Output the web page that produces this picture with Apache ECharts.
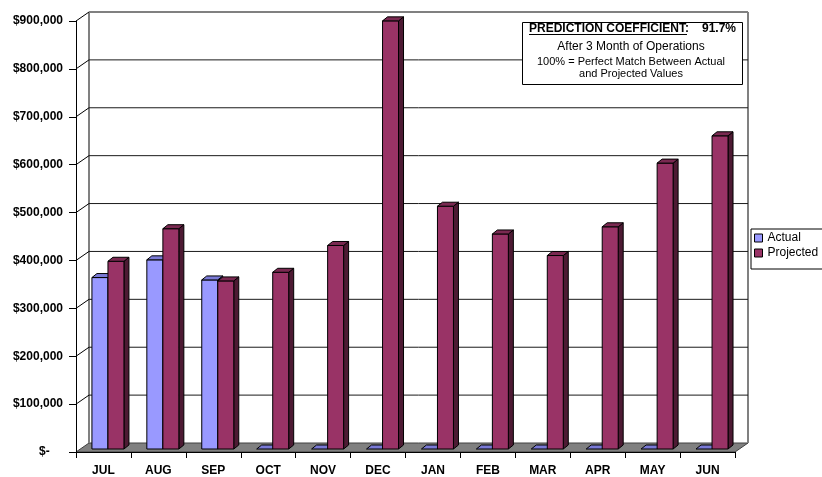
<!DOCTYPE html>
<html>
<head>
<meta charset="utf-8">
<script src="https://cdn.jsdelivr.net/npm/echarts@6/dist/echarts.min.js"></script>
<style>
html,body{margin:0;padding:0;background:#fff;}
#chart{width:822px;height:477px;}
</style>
</head>
<body>
<div id="chart"></div>
<script>
const categories = ['JUL','AUG','SEP','OCT','NOV','DEC','JAN','FEB','MAR','APR','MAY','JUN'];
const actualValues = [358000, 395000, 353000, 0, 0, 0, 0, 0, 0, 0, 0, 0];
const projectedValues = [392000, 460000, 351000, 369000, 425000, 894000, 507000, 449000, 404000, 464000, 597000, 654000];
const yTicks = [0, 100000, 200000, 300000, 400000, 500000, 600000, 700000, 800000, 900000];
const legendNames = ['Actual', 'Projected'];
const boxLines = ['PREDICTION COEFFICIENT:', '91.7%', 'After 3 Month of Operations', '100% = Perfect Match Between Actual', 'and Projected Values'];

const FONT = '"Liberation Sans", Arial, sans-serif';
const DX = 13, DY = -9;          // wall depth offset
const BDX = 5, BDY = -4;         // bar depth offset
const BAR_SHIFT = -3;            // bars sit mid-depth

function fmtMoney(v) {
  if (v === 0) return '$-    ';
  return '$' + String(v).replace(/\B(?=(\d{3})+(?!\d))/g, ',');
}

const chart = echarts.init(document.getElementById('chart'), null, {renderer: 'canvas'});

function wallRender(params, api) {
  const cs = params.coordSys;
  const left = cs.x, right = cs.x + cs.width, bottom = cs.y + cs.height, top = cs.y;
  const v = api.value(1);
  const y = api.coord([0, v])[1];
  const children = [];
  if (params.dataIndex === 0) {
    children.push({
      type: 'polygon',
      shape: {points: [[left, bottom], [right, bottom], [right + DX, bottom + DY], [left + DX, bottom + DY]]},
      style: {fill: '#808080', stroke: '#404040', lineWidth: 1}
    });
    children.push({
      type: 'line',
      shape: {x1: left + DX, y1: top + DY, x2: left + DX, y2: bottom + DY},
      style: {stroke: '#808080', lineWidth: 2}
    });
    children.push({
      type: 'line',
      shape: {x1: right + DX, y1: top + DY, x2: right + DX, y2: bottom + DY},
      style: {stroke: '#808080', lineWidth: 2}
    });
  }
  if (v > 0) {
    const isTop = params.dataIndex === yTicks.length - 1;
    children.push({
      type: 'line',
      shape: {x1: left + DX, y1: y + DY, x2: right + DX, y2: y + DY},
      style: {stroke: isTop ? '#808080' : '#1a1a1a', lineWidth: isTop ? 2 : 1}
    });
    children.push({
      type: 'line',
      shape: {x1: left, y1: y, x2: left + DX, y2: y + DY},
      style: {stroke: '#000', lineWidth: 1}
    });
  }
  return {type: 'group', children: children};
}

function makeBarRender(frontColor, topColor, sideColor, offsetFrac) {
  return function (params, api) {
    const idx = api.value(0), v = api.value(1);
    const c = api.coord([idx, v]);
    const b = api.coord([idx, 0]);
    const bw = api.size([1, 0])[0];
    const w = bw * 0.291;
    const x0 = c[0] + bw * offsetFrac;
    const yT = c[1] + BAR_SHIFT;
    const yB = b[1] + BAR_SHIFT;
    const st = {stroke: '#000', lineWidth: 1};
    const children = [];
    if (yB - yT > 0.5) {
      children.push({type: 'polygon', shape: {points: [[x0 + w, yT], [x0 + w + BDX, yT + BDY], [x0 + w + BDX, yB + BDY], [x0 + w, yB]]}, style: Object.assign({fill: sideColor}, st)});
      children.push({type: 'rect', shape: {x: x0, y: yT, width: w, height: yB - yT}, style: Object.assign({fill: frontColor}, st)});
    }
    children.push({type: 'polygon', shape: {points: [[x0, yT], [x0 + w, yT], [x0 + w + BDX, yT + BDY], [x0 + BDX, yT + BDY]]}, style: Object.assign({fill: topColor}, st)});
    return {type: 'group', children: children};
  };
}

const option = {
  animation: false,
  backgroundColor: '#fff',
  grid: {left: 76, top: 21, width: 659, height: 434},
  xAxis: {
    type: 'category',
    data: categories,
    z: 5,
    axisLine: {show: true, lineStyle: {color: '#000', width: 1}},
    axisTick: {show: true, length: 6, interval: 0, lineStyle: {color: '#000'}},
    axisLabel: {interval: 0, margin: 13, color: '#000', fontWeight: 'bold', fontSize: 12, fontFamily: FONT},
    splitLine: {show: false}
  },
  yAxis: {
    type: 'value',
    min: 0, max: 900000, interval: 100000,
    z: 5,
    axisLine: {show: true, lineStyle: {color: '#000', width: 1}},
    axisTick: {show: true, length: 7, lineStyle: {color: '#000'}},
    axisLabel: {margin: 13, color: '#000', fontWeight: 'bold', fontSize: 12, fontFamily: FONT, formatter: fmtMoney},
    splitLine: {show: false}
  },
  legend: {
    orient: 'vertical',
    left: 751, top: 229,
    padding: [3, 10, 10, 3],
    itemGap: 3,
    itemWidth: 8, itemHeight: 8,
    borderColor: '#000', borderWidth: 1,
    backgroundColor: '#fff',
    textStyle: {color: '#000', fontSize: 12, fontFamily: FONT},
    data: [
      {name: legendNames[0], icon: 'rect', itemStyle: {color: '#9999FF', borderColor: '#000', borderWidth: 1}},
      {name: legendNames[1], icon: 'rect', itemStyle: {color: '#993366', borderColor: '#000', borderWidth: 1}}
    ]
  },
  series: [
    {
      name: 'wall', type: 'custom', z: 1, silent: true,
      renderItem: wallRender,
      data: yTicks.map(v => [0, v]),
      encode: {x: 0, y: 1}
    },
    {
      name: legendNames[0], type: 'custom', z: 3,
      itemStyle: {color: '#9999FF'},
      renderItem: makeBarRender('#9999FF', '#7a7ad6', '#5c5cb0', -0.21),
      data: actualValues.map((v, i) => [i, v]),
      encode: {x: 0, y: 1}
    },
    {
      name: legendNames[1], type: 'custom', z: 3,
      itemStyle: {color: '#993366'},
      renderItem: makeBarRender('#993366', '#7a2951', '#4d1a33', 0.082),
      data: projectedValues.map((v, i) => [i, v]),
      encode: {x: 0, y: 1}
    }
  ],
  graphic: [
    {type: 'rect', z: 20, shape: {x: 522.5, y: 22.5, width: 220, height: 62}, style: {fill: '#fff', stroke: '#000', lineWidth: 1}},
    {type: 'text', z: 21, x: 529, y: 29, style: {text: boxLines[0], font: 'bold 12px ' + FONT, fill: '#000', textAlign: 'left', textVerticalAlign: 'middle'}},
    {type: 'line', z: 21, shape: {x1: 529, y1: 34.5, x2: 687, y2: 34.5}, style: {stroke: '#000', lineWidth: 1}},
    {type: 'text', z: 21, x: 736, y: 29, style: {text: boxLines[1], font: 'bold 12px ' + FONT, fill: '#000', textAlign: 'right', textVerticalAlign: 'middle'}},
    {type: 'text', z: 21, x: 631, y: 46.5, style: {text: boxLines[2], font: '12px ' + FONT, fill: '#000', textAlign: 'center', textVerticalAlign: 'middle'}},
    {type: 'text', z: 21, x: 631, y: 62, style: {text: boxLines[3], font: '11px ' + FONT, fill: '#000', textAlign: 'center', textVerticalAlign: 'middle'}},
    {type: 'text', z: 21, x: 631, y: 74, style: {text: boxLines[4], font: '11px ' + FONT, fill: '#000', textAlign: 'center', textVerticalAlign: 'middle'}}
  ]
};
chart.setOption(option);
</script>
</body>
</html>
